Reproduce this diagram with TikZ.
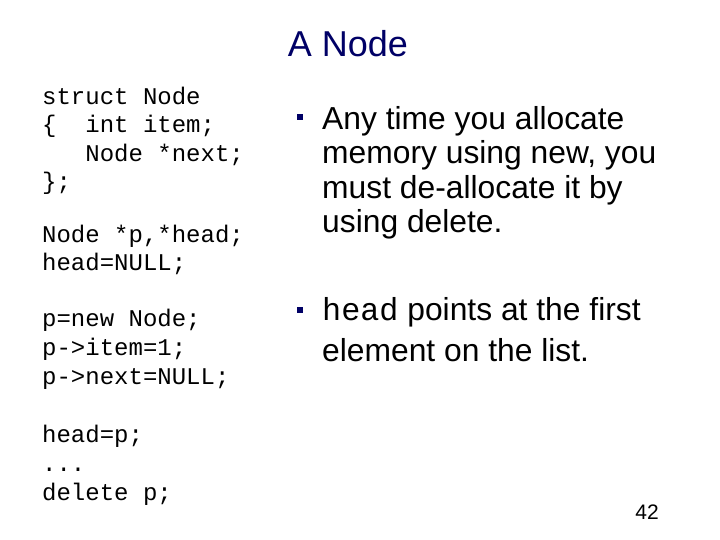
\documentclass[tikz,border=0pt]{standalone}
\usepackage{fontspec}
\setmainfont{Liberation Sans}
\setmonofont{Liberation Mono}
\usetikzlibrary{positioning}
\definecolor{slidenavy}{HTML}{000066}

\begin{document}
\begin{tikzpicture}[x=1bp, y=-1bp]
\tikzstyle{title}=[inner sep=0pt, anchor=base, text=slidenavy, font=\fontsize{36bp}{40bp}\selectfont]
\tikzstyle{code}=[inner sep=0pt, anchor=base west, align=left, font=\ttfamily\fontsize{24bp}{28.6bp}\selectfont]
\tikzstyle{point}=[inner sep=0pt, anchor=base west, align=left, font=\fontsize{31.8bp}{34.6bp}\selectfont]
\tikzstyle{bulletsq}=[rectangle, fill=slidenavy, inner sep=0pt, minimum size=6bp]
\useasboundingbox[fill=white] (0,0) rectangle (720,540);
    \node[title] (T) at (348,57) {A Node};
    % code column (anchored at the last line)
    \node[code] (S) at (42,190) {struct Node\\\{\ \ int item;\\\ \ \ Node *next;\\\};};
    \node[code] (H) at (42,271) {Node *p,*head;\\head=NULL;};
    \node[code] (P) at (42,384) {p=new Node;\\p->item=1;\\p->next=NULL;};
    \node[code] (D) at (42,500) {head=p;\\...\\delete p;};
    % bullet points
    \node[point] (B1) at (322,233) {Any time you allocate\\memory using new, you\\must de-allocate it by\\using delete.};
    \node[point] (B2) at (322,361) {\texttt{head} points at the first\\[6bp]element on the list.};
    \node[bulletsq] (Q1) at ([xshift=-22bp, yshift=115.5bp]B1.base west) {};
    \node[bulletsq] (Q2) at ([xshift=-22bp, yshift=51.5bp]B2.base west) {};
    \node[inner sep=0pt, anchor=base east, font=\fontsize{21bp}{25bp}\selectfont] (N) at (659,519) {42};
\end{tikzpicture}
\end{document}
